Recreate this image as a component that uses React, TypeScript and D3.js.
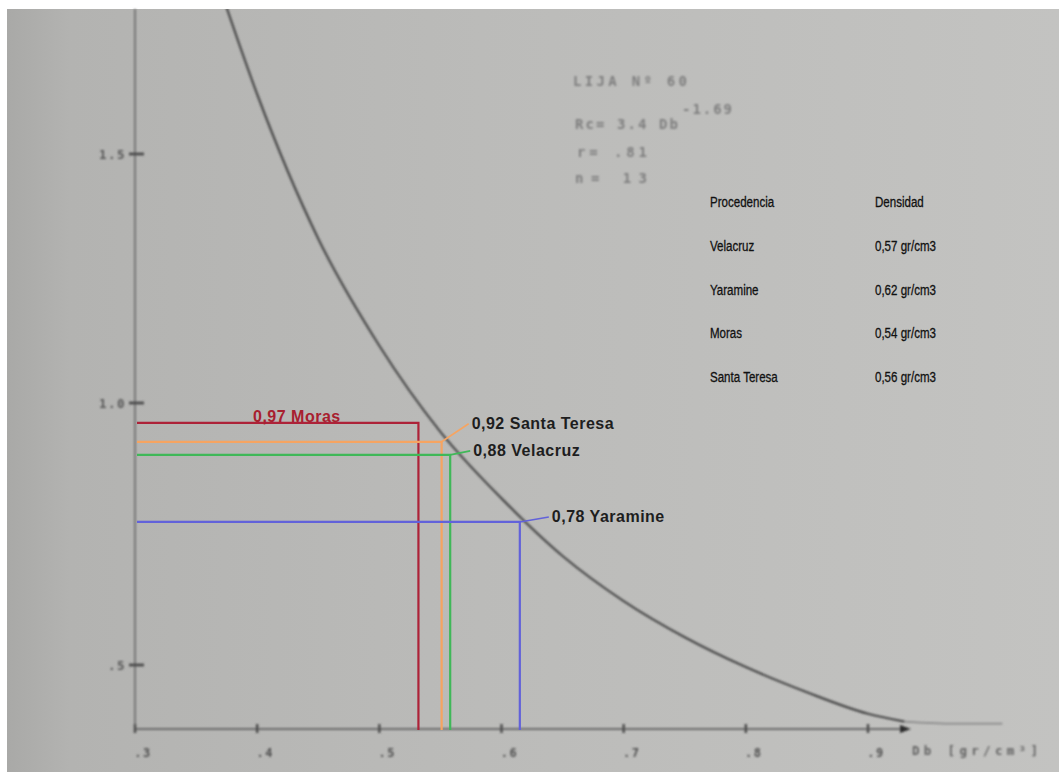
import React, { useEffect, useRef } from "react";
import * as d3 from "d3";

const W = 1059;
const H = 772;

// curve (Db in gr/cm3 -> Rc)
const curveDb = [0.37, 0.4, 0.45, 0.5, 0.55, 0.6, 0.65, 0.7, 0.75, 0.8, 0.85, 0.9, 0.93, 0.97, 1.01];
const curveRc = [1.83, 1.62, 1.33, 1.115, 0.945, 0.818, 0.708, 0.622, 0.553, 0.496, 0.448, 0.407, 0.392, 0.388, 0.388];

// hand drawn guides (where each one meets the axes, as read)
const guideNames = ["Moras", "Santa Teresa", "Velacruz", "Yaramine"];
const guideLabelRc = [0.97, 0.92, 0.88, 0.78];
const guideDb = [0.532, 0.551, 0.558, 0.615];
const guideRc = [0.962, 0.926, 0.901, 0.773];
const guideColors = ["#ad2238", "#f6a461", "#3fb858", "#6262da"];

// table
const origins = ["Velacruz", "Yaramine", "Moras", "Santa Teresa"];
const densities = [0.57, 0.62, 0.54, 0.56];

const xTicks = [0.3, 0.4, 0.5, 0.6, 0.7, 0.8, 0.9];
const xTickLabels = [".3", ".4", ".5", ".6", ".7", ".8", ".9"];
const yTicks = [0.5, 1.0, 1.5];
const yTickLabels = [".5", "1.0", "1.5"];

const comma = (v: number) => d3.format(".2f")(v).replace(".", ",");

export default function App() {
  const ref = useRef<SVGSVGElement>(null);

  useEffect(() => {
    const svg = d3.select(ref.current);
    svg.selectAll("*").remove();

    const left = 135;
    const top = 9;
    const bottom = 729;
    const x = d3.scaleLinear().domain([0.3, 0.9]).range([left, 868]);
    const y = d3.scaleLinear().domain([0.5, 1.0, 1.5]).range([665, 403, 154]);

    const defs = svg.append("defs");
    const bg = defs
      .append("linearGradient")
      .attr("id", "paper")
      .attr("x1", "0%")
      .attr("x2", "100%")
      .attr("y1", "0%")
      .attr("y2", "0%");
    [
      ["0%", "#a9a9a7"],
      ["6%", "#b3b3b1"],
      ["45%", "#bbbbb9"],
      ["100%", "#c3c3c1"],
    ].forEach(([o, c]) => bg.append("stop").attr("offset", o).style("stop-color", c));

    defs
      .append("filter")
      .attr("id", "soft")
      .attr("x", "-5%")
      .attr("y", "-5%")
      .attr("width", "110%")
      .attr("height", "110%")
      .append("feGaussianBlur")
      .attr("stdDeviation", 0.8);
    defs
      .append("clipPath")
      .attr("id", "plot")
      .append("rect")
      .attr("x", left)
      .attr("y", top)
      .attr("width", W - left)
      .attr("height", bottom - top + 2);

    svg.append("rect").attr("width", W).attr("height", H).style("fill", "#ffffff");
    svg
      .append("rect")
      .attr("x", 7)
      .attr("y", top)
      .attr("width", W - 7)
      .attr("height", H - top)
      .style("fill", "url(#paper)");

    const faded = svg.append("g").attr("filter", "url(#soft)");
    const mono = "DejaVu Sans Mono, monospace";

    // axes
    faded
      .append("line")
      .attr("x1", left)
      .attr("x2", left)
      .attr("y1", top)
      .attr("y2", bottom + 4)
      .style("stroke", "#707070")
      .style("stroke-width", 1.8);
    faded
      .append("line")
      .attr("x1", left)
      .attr("x2", 902)
      .attr("y1", bottom)
      .attr("y2", bottom)
      .style("stroke", "#6a6a6a")
      .style("stroke-width", 2.2);
    faded
      .append("path")
      .attr("d", `M900,${bottom - 4}L911,${bottom}L900,${bottom + 4}Z`)
      .style("fill", "#2a2a2a");

    faded
      .selectAll(".xt")
      .data(xTicks)
      .enter()
      .append("line")
      .attr("x1", (d) => x(d))
      .attr("x2", (d) => x(d))
      .attr("y1", bottom - 5)
      .attr("y2", bottom + 4)
      .style("stroke", "#4a4a4a")
      .style("stroke-width", 2.4);

    faded
      .selectAll(".xl")
      .data(xTicks)
      .enter()
      .append("text")
      .attr("x", (d) => x(d) + 8)
      .attr("y", 757)
      .attr("text-anchor", "middle")
      .style("font-family", mono)
      .style("font-size", "12px")
      .style("font-weight", "bold")
      .style("letter-spacing", "1.5px")
      .style("fill", "#4f4f4f")
      .text((d, i) => xTickLabels[i]);

    faded
      .append("text")
      .attr("x", 912)
      .attr("y", 755)
      .attr("textLength", 126)
      .attr("lengthAdjust", "spacing")
      .style("font-family", mono)
      .style("font-size", "12.5px")
      .style("font-weight", "bold")
      .style("fill", "#626262")
      .text("Db [gr/cm³]");

    faded
      .selectAll(".yt")
      .data(yTicks)
      .enter()
      .append("line")
      .attr("x1", left - 6)
      .attr("x2", left + 9)
      .attr("y1", (d) => y(d))
      .attr("y2", (d) => y(d))
      .style("stroke", "#4a4a4a")
      .style("stroke-width", 2.8);

    faded
      .selectAll(".yl")
      .data(yTicks)
      .enter()
      .append("text")
      .attr("x", 126)
      .attr("y", (d) => y(d) + 5)
      .attr("text-anchor", "end")
      .style("font-family", mono)
      .style("font-size", "12.5px")
      .style("font-weight", "bold")
      .style("letter-spacing", "1.5px")
      .style("fill", "#575757")
      .text((d, i) => yTickLabels[i]);

    // curve
    const pts = curveDb.map((d, i) => [d, curveRc[i]] as [number, number]);
    const line = d3
      .line<[number, number]>()
      .x((d) => x(d[0]))
      .y((d) => y(d[1]))
      .curve(d3.curveMonotoneX);
    const cg = svg.append("g").attr("clip-path", "url(#plot)").append("g").attr("filter", "url(#soft)");
    cg.append("path")
      .attr("d", line(pts.filter((d) => d[0] <= 0.93)))
      .style("fill", "none")
      .style("stroke", "#474747")
      .style("stroke-width", 2.2);
    cg.append("path")
      .attr("d", line(pts.filter((d) => d[0] >= 0.93)))
      .style("fill", "none")
      .style("stroke", "#8a8a8a")
      .style("stroke-width", 1.8);

    // equation block
    const eq = [
      { t: "LIJA Nº 60", x: 573, y: 86, w: 114 },
      { t: "-1.69", x: 682, y: 114, w: 50 },
      { t: "Rc= 3.4 Db", x: 575, y: 129, w: 103 },
      { t: "r= .81", x: 577, y: 157, w: 70 },
      { t: "n= 13", x: 575, y: 183, w: 72 },
    ];
    eq.forEach((e) =>
      faded
        .append("text")
        .attr("x", e.x)
        .attr("y", e.y)
        .attr("textLength", e.w)
        .attr("lengthAdjust", "spacing")
        .style("font-family", mono)
        .style("font-size", "14px")
        .style("font-weight", "bold")
        .style("fill", "#7e7e7e")
        .text(e.t)
    );

    // guides
    const nudge: Record<string, { dx: number; dy: number; lead: boolean }> = {
      Moras: { dx: 0, dy: -1, lead: false },
      "Santa Teresa": { dx: 30, dy: -13, lead: true },
      Velacruz: { dx: 23, dy: 1, lead: true },
      Yaramine: { dx: 32, dy: 0, lead: true },
    };

    const g = svg.append("g");
    guideNames.forEach((name, i) => {
      const cx = x(guideDb[i]);
      const cy = y(guideRc[i]);
      const col = guideColors[i];
      g.append("path")
        .attr("d", `M${left + 2},${cy}H${cx}V${bottom + 1}`)
        .style("fill", "none")
        .style("stroke", col)
        .style("stroke-width", 2.2);
      const n = nudge[name];
      if (n.lead) {
        g.append("line")
          .attr("x1", cx)
          .attr("y1", cy)
          .attr("x2", cx + n.dx - 3)
          .attr("y2", cy + n.dy - 5)
          .style("stroke", col)
          .style("stroke-width", 1.6);
      }
      g.append("text")
        .attr("x", n.lead ? cx + n.dx : 253)
        .attr("y", cy + n.dy)
        .style("font-family", "Liberation Sans, Arial, sans-serif")
        .style("font-size", "16px")
        .style("font-weight", "bold")
        .style("letter-spacing", "0.5px")
        .style("fill", n.lead ? "#1e1e1e" : "#a8202f")
        .text(`${comma(guideLabelRc[i])} ${name}`);
    });

    // table (condensed by a horizontal squeeze)
    const tbl = svg
      .append("g")
      .style("font-family", "Liberation Sans, Arial, sans-serif")
      .style("font-size", "15px")
      .style("fill", "#111")
      .style("stroke", "#111")
      .style("stroke-width", 0.3);
    const cell = (tx: number, ty: number, t: string) =>
      tbl.append("text").attr("transform", `translate(${tx},${ty}) scale(0.77,1)`).text(t);
    cell(710, 207, "Procedencia");
    cell(875, 207, "Densidad");
    origins.forEach((o, i) => cell(710, 251 + 43.7 * i, o));
    densities.forEach((d, i) => cell(875, 251 + 43.7 * i, `${comma(d)} gr/cm3`));
  }, []);

  return (
    <svg
      ref={ref}
      width={W}
      height={H}
      style={{ position: "absolute", left: 0, top: 0, display: "block" }}
    />
  );
}
